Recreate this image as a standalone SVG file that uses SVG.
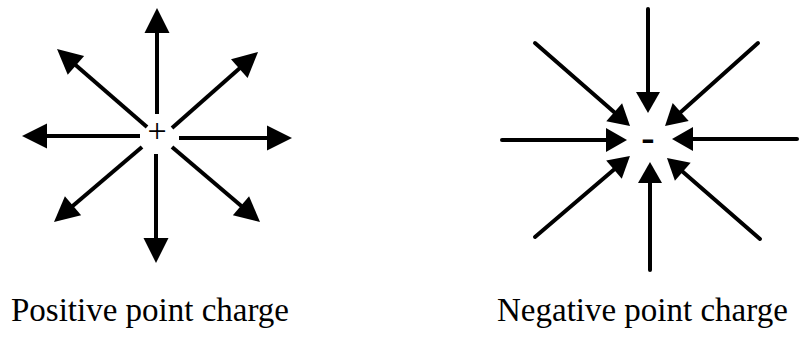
<svg xmlns="http://www.w3.org/2000/svg" width="801" height="337" viewBox="0 0 801 337">
<style>
.ln{stroke:#000;stroke-width:4;fill:none}
.lp{marker-end:url(#hp)}
.lneg{marker-end:url(#hn);stroke-linecap:round}
</style>
<defs>
<marker id="hp" markerUnits="userSpaceOnUse" markerWidth="25" markerHeight="25" refX="2" refY="12.5" orient="auto" overflow="visible">
<path d="M0,0 L25,12.5 L0,25 Z" fill="#000"/>
</marker>
<marker id="hn" markerUnits="userSpaceOnUse" markerWidth="21" markerHeight="24" refX="2" refY="12" orient="auto" overflow="visible">
<path d="M0,0 L21,12 L0,24 Z" fill="#000"/>
</marker>
</defs>
<rect width="801" height="337" fill="#fff"/>
<g id="connectors">
<g id="positive-field">
<line class="ln lp" x1="157" y1="114" x2="157" y2="31"/>
<line class="ln lp" x1="156" y1="154" x2="156" y2="240"/>
<line class="ln lp" x1="140" y1="136" x2="45" y2="136"/>
<line class="ln lp" x1="179" y1="138" x2="269" y2="138"/>
<line class="ln lp" x1="147" y1="127" x2="74.4" y2="64.1"/>
<line class="ln lp" x1="172" y1="128" x2="240.8" y2="67.2"/>
<line class="ln lp" x1="142" y1="147" x2="71.5" y2="207.1"/>
<line class="ln lp" x1="172" y1="147" x2="242.5" y2="207.1"/>
</g>
<g id="negative-field">
<line class="ln lneg" x1="648" y1="9" x2="648" y2="94"/>
<line class="ln lneg" x1="650" y1="270" x2="650" y2="181"/>
<line class="ln lneg" x1="502" y1="140" x2="608" y2="140"/>
<line class="ln lneg" x1="797" y1="139" x2="691" y2="139"/>
<line class="ln lneg" x1="535" y1="43" x2="615.7" y2="113.5"/>
<line class="ln lneg" x1="758" y1="43" x2="679.2" y2="113.4"/>
<line class="ln lneg" x1="535" y1="237" x2="615.5" y2="168.3"/>
<line class="ln lneg" x1="760" y1="239" x2="681.3" y2="170.5"/>
</g>
</g>
<g font-family="Liberation Serif, Times New Roman, serif" fill="#000">
<g id="positive-charge">
<text x="157" y="142" font-size="34" text-anchor="middle">+</text>
</g>
<g id="negative-charge">
<text x="648" y="151" font-size="40" font-weight="bold" text-anchor="middle">-</text>
</g>
<g id="label-positive">
<text x="11" y="321" font-size="33">Positive point charge</text>
</g>
<g id="label-negative">
<text x="497" y="321" font-size="33">Negative point charge</text>
</g>
</g>
</svg>
